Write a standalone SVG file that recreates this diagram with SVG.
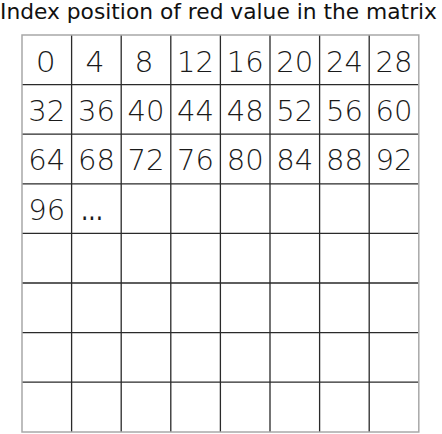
<svg xmlns="http://www.w3.org/2000/svg" width="442" height="434" viewBox="0 0 442 434">
<style>
.t{font-family:"DejaVu Sans","Liberation Sans",sans-serif;font-weight:200;fill:#1a1a1a;font-size:28px;text-anchor:middle}
.ttl{font-family:"DejaVu Sans","Liberation Sans",sans-serif;font-size:21px;fill:#111}
.in{stroke:#2a2a2a;stroke-width:1.3;fill:none}
.out{stroke:#a8a8a8;stroke-width:1.5;fill:none}
</style>
<rect width="442" height="434" fill="#fff"/>
<text class="ttl" x="0" y="19" textLength="437" lengthAdjust="spacingAndGlyphs">Index position of red value in the matrix</text>
<g id="connectors">
<path class="in" d="M71.6 35V432M121.2 35V432M170.8 35V432M220.4 35V432M270 35V432M319.6 35V432M369.2 35V432M22 84.6H418.8M22 134.2H418.8M22 183.8H418.8M22 233.4H418.8M22 283H418.8M22 332.6H418.8M22 382.2H418.8"/>
<rect class="out" x="22" y="35" width="396.8" height="397"/>
</g>
<g id="row1" class="t">
<text x="45.8" y="72" textLength="20" lengthAdjust="spacingAndGlyphs">0</text><text x="95" y="72" textLength="19" lengthAdjust="spacingAndGlyphs">4</text><text x="144" y="72" textLength="19" lengthAdjust="spacingAndGlyphs">8</text><text x="195.6" y="72" textLength="37" lengthAdjust="spacingAndGlyphs">12</text><text x="245.2" y="72" textLength="37" lengthAdjust="spacingAndGlyphs">16</text><text x="294.8" y="72" textLength="37" lengthAdjust="spacingAndGlyphs">20</text><text x="344.4" y="72" textLength="37" lengthAdjust="spacingAndGlyphs">24</text><text x="394" y="72" textLength="37" lengthAdjust="spacingAndGlyphs">28</text>
</g>
<g id="row2" class="t">
<text x="46.8" y="121" textLength="37" lengthAdjust="spacingAndGlyphs">32</text><text x="96.4" y="121" textLength="37" lengthAdjust="spacingAndGlyphs">36</text><text x="146" y="121" textLength="37" lengthAdjust="spacingAndGlyphs">40</text><text x="195.6" y="121" textLength="37" lengthAdjust="spacingAndGlyphs">44</text><text x="245.2" y="121" textLength="37" lengthAdjust="spacingAndGlyphs">48</text><text x="294.8" y="121" textLength="37" lengthAdjust="spacingAndGlyphs">52</text><text x="344.4" y="121" textLength="37" lengthAdjust="spacingAndGlyphs">56</text><text x="394" y="121" textLength="37" lengthAdjust="spacingAndGlyphs">60</text>
</g>
<g id="row3" class="t">
<text x="46.8" y="170" textLength="37" lengthAdjust="spacingAndGlyphs">64</text><text x="96.4" y="170" textLength="37" lengthAdjust="spacingAndGlyphs">68</text><text x="146" y="170" textLength="37" lengthAdjust="spacingAndGlyphs">72</text><text x="195.6" y="170" textLength="37" lengthAdjust="spacingAndGlyphs">76</text><text x="245.2" y="170" textLength="37" lengthAdjust="spacingAndGlyphs">80</text><text x="294.8" y="170" textLength="37" lengthAdjust="spacingAndGlyphs">84</text><text x="344.4" y="170" textLength="37" lengthAdjust="spacingAndGlyphs">88</text><text x="394" y="170" textLength="37" lengthAdjust="spacingAndGlyphs">92</text>
</g>
<g id="row4" class="t">
<text x="46.8" y="220" textLength="37" lengthAdjust="spacingAndGlyphs">96</text><text x="92" y="220" font-weight="400" textLength="22" lengthAdjust="spacingAndGlyphs">...</text>
</g>
</svg>
